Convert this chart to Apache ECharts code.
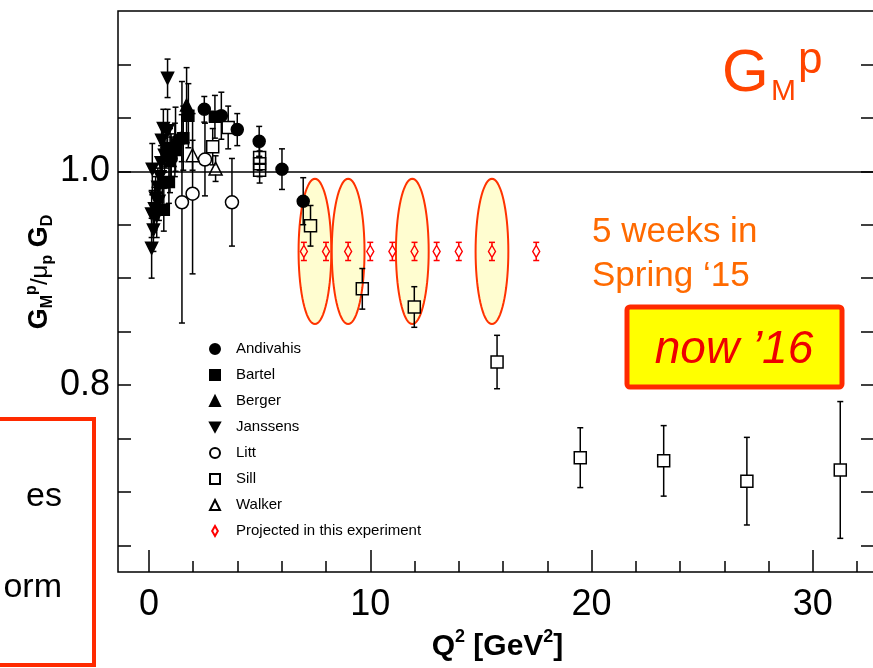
<!DOCTYPE html>
<html>
<head>
<meta charset="utf-8">
<script src="https://cdn.jsdelivr.net/npm/echarts@6/dist/echarts.min.js"></script>
<style>
  html, body { margin: 0; padding: 0; background: #fff; }
  #chart { width: 873px; height: 668px; }
</style>
</head>
<body>
<div id="chart"></div>
<script>
// [Q2, GMp/(mu_p GD), error]
var andivahis = [
  [1.0, 1.012, 0.020], [1.48, 1.031, 0.022], [2.5, 1.058, 0.012], [3.27, 1.052, 0.022],
  [3.99, 1.039, 0.015], [4.98, 1.028, 0.014], [6.01, 1.002, 0.019], [6.97, 0.972, 0.022]
];
var bartel = [
  [0.67, 0.964, 0.020], [0.9, 0.990, 0.020], [1.0, 1.015, 0.020], [1.17, 1.020, 0.025],
  [1.55, 1.031, 0.030], [1.78, 1.052, 0.030], [2.98, 1.051, 0.020]
];
var berger = [
  [0.6, 0.990, 0.030], [0.95, 1.010, 0.030], [1.2, 1.030, 0.030], [1.7, 1.062, 0.035]
];
var janssens = [
  [0.12, 0.928, 0.028], [0.12, 0.960, 0.022], [0.15, 1.002, 0.024], [0.2, 0.945, 0.020],
  [0.25, 0.965, 0.020], [0.3, 0.975, 0.020], [0.35, 0.958, 0.020], [0.4, 0.985, 0.018],
  [0.45, 0.972, 0.018], [0.5, 0.995, 0.016], [0.55, 1.008, 0.016], [0.57, 1.029, 0.016],
  [0.65, 1.040, 0.018], [0.7, 1.015, 0.016], [0.77, 1.021, 0.018], [0.84, 1.038, 0.020],
  [0.84, 1.087, 0.018]
];
var litt = [
  [1.49, 0.971, 0.113], [1.97, 0.979, 0.075], [2.53, 1.011, 0.034], [3.75, 0.971, 0.041]
];
var sill = [
  [2.88, 1.023, 0.017], [3.58, 1.041, 0.020], [5.0, 1.013, 0.012], [5.0, 1.007, 0.012],
  [5.0, 1.001, 0.012], [7.3, 0.949, 0.019], [9.64, 0.890, 0.019], [11.99, 0.873, 0.019],
  [15.73, 0.8215, 0.025], [19.49, 0.732, 0.028], [23.26, 0.729, 0.033], [27.02, 0.710, 0.041],
  [31.24, 0.7205, 0.064]
];
var walker = [
  [1.97, 1.015, 0.014], [3.01, 1.0025, 0.012]
];
var projQ2 = [7, 8, 9, 10, 11, 12, 13, 14, 15.5, 17.5];
var projRatio = 0.925;
var projErr = 0.0085;

// five-week run windows
var ellipseQ2 = [7.5, 9.0, 11.9, 15.5];

var xMinorTicks = [0, 2, 4, 6, 8, 10, 12, 14, 16, 18, 20, 22, 24, 26, 28, 30, 32];
var xMajorTicks = [0, 10, 20, 30];
var yTicks = [0.65, 0.7, 0.75, 0.8, 0.85, 0.9, 0.95, 1.0, 1.05, 1.1];
var yLabels = [0.8, 1.0];

var FONT = '"Liberation Sans", Arial, Helvetica, sans-serif';
var downTri = 'path://M0,0L12,0L6,11Z';
var thinDiamond = 'path://M4,0L8,7L4,14L0,7Z';

function errorBars(color, gap) {
  return function (params, api) {
    var x = api.value(0), y = api.value(1), e = api.value(2);
    var c = api.coord([x, y]);
    var hi = api.coord([x, y + e]);
    var lo = api.coord([x, y - e]);
    var st = { stroke: color, lineWidth: 1.5 };
    var kids = [
      { type: 'line', shape: { x1: hi[0] - 3, y1: hi[1], x2: hi[0] + 3, y2: hi[1] }, style: st },
      { type: 'line', shape: { x1: lo[0] - 3, y1: lo[1], x2: lo[0] + 3, y2: lo[1] }, style: st }
    ];
    if (c[1] - hi[1] > gap) {
      kids.push({ type: 'line', shape: { x1: c[0], y1: hi[1], x2: c[0], y2: c[1] - gap }, style: st });
      kids.push({ type: 'line', shape: { x1: c[0], y1: c[1] + gap, x2: c[0], y2: lo[1] }, style: st });
    }
    return { type: 'group', children: kids };
  };
}

function ellipseItem(params, api) {
  var cx = api.value(0), cy = api.value(1);
  var pts = [];
  for (var k = 0; k < 72; k++) {
    var a = k / 72 * 2 * Math.PI;
    pts.push(api.coord([cx + 0.74 * Math.cos(a), cy + 0.068 * Math.sin(a)]));
  }
  return { type: 'polygon', shape: { points: pts },
    style: { fill: '#fffdd0', stroke: '#ff3300', lineWidth: 2 } };
}

function pts(arr) { return arr.map(function (d) { return [d[0], d[1]]; }); }

function markers(name, arr, symbol, fill, stroke, size) {
  return {
    type: 'scatter', name: name, data: pts(arr), symbol: symbol, symbolSize: size || 12,
    itemStyle: { color: fill, borderColor: stroke, borderWidth: 1.5, opacity: 1 }, z: 4
  };
}
function bars(arr, color) {
  return { type: 'custom', data: arr, encode: { x: 0, y: 1 }, renderItem: errorBars(color, 6), z: 3, silent: true };
}

var projData = projQ2.map(function (q) { return [q, projRatio, projErr]; });
var open = 'rgba(0,0,0,0)';

var series = [
  { type: 'custom', data: ellipseQ2.map(function (q) { return [q, projRatio]; }),
    encode: { x: 0, y: 1 }, renderItem: ellipseItem, z: 1, silent: true },
  bars(andivahis, '#000'), bars(bartel, '#000'), bars(berger, '#000'), bars(janssens, '#000'),
  bars(litt, '#000'), bars(sill, '#000'), bars(walker, '#000'), bars(projData, '#ff0000'),
  Object.assign(markers('Andivahis', andivahis, 'circle', '#000', '#000'), {
    markLine: { silent: true, symbol: 'none', label: { show: false },
      lineStyle: { color: '#000', width: 1.5, type: 'solid' }, data: [{ yAxis: 1.0 }] }
  }),
  markers('Bartel', bartel, 'rect', '#000', '#000', 11),
  markers('Berger', berger, 'triangle', '#000', '#000', 12),
  markers('Janssens', janssens, downTri, '#000', '#000', 12),
  markers('Litt', litt, 'circle', open, '#000', 13),
  markers('Sill', sill, 'rect', open, '#000', 12),
  markers('Walker', walker, 'triangle', open, '#000', 13),
  markers('Projected in this experiment', pts(projData), thinDiamond, open, '#ff0000', [7, 12])
];

var chart = echarts.init(document.getElementById('chart'));
chart.setOption({
  animation: false,
  backgroundColor: '#fff',
  grid: { left: 118, top: 11, width: 759, height: 561, outerBoundsMode: 'none',
    show: true, borderColor: '#000', borderWidth: 1.5 },
  xAxis: [
    { type: 'value', min: -1.4, max: 32.9, position: 'bottom',
      axisLine: { show: false, onZero: false }, splitLine: { show: false },
      axisTick: { inside: true, length: 11, customValues: xMinorTicks, lineStyle: { color: '#000', width: 1.5 } },
      axisLabel: { show: false } },
    { type: 'value', min: -1.4, max: 32.9, position: 'bottom',
      axisLine: { show: false, onZero: false }, splitLine: { show: false },
      axisTick: { inside: true, length: 22, customValues: xMajorTicks, lineStyle: { color: '#000', width: 1.5 } },
      axisLabel: { customValues: xMajorTicks, margin: 15, color: '#000', fontSize: 36,
        fontFamily: '"Liberation Sans Narrow", ' + FONT },
      name: '{b|Q}{s|2}{b| [GeV}{s|2}{b|]}', nameLocation: 'middle', nameGap: 55,
      nameTextStyle: { rich: {
        b: { fontSize: 30, fontWeight: 'bold', fontFamily: FONT, color: '#000', lineHeight: 34, verticalAlign: 'bottom' },
        s: { fontSize: 18, fontWeight: 'bold', fontFamily: FONT, color: '#000', lineHeight: 34, verticalAlign: 'top' }
      } } }
  ],
  yAxis: [
    { type: 'value', min: 0.625, max: 1.15, position: 'left',
      axisLine: { show: false, onZero: false }, splitLine: { show: false },
      axisTick: { inside: true, length: 13, customValues: yTicks, lineStyle: { color: '#000', width: 1.5 } },
      axisLabel: { customValues: yLabels, margin: 8, color: '#000', fontSize: 36, fontFamily: FONT,
        formatter: function (v) { return v.toFixed(1); } } },
    { type: 'value', min: 0.625, max: 1.15, position: 'right',
      axisLine: { show: false, onZero: false }, splitLine: { show: false },
      axisTick: { inside: true, length: 16, customValues: yTicks, lineStyle: { color: '#000', width: 1.5 } },
      axisLabel: { show: false } }
  ],
  legend: {
    orient: 'vertical', left: 204, top: 336, itemWidth: 10, itemHeight: 10, itemGap: 10,
    selectedMode: false,
    textStyle: { fontSize: 15, fontFamily: FONT, color: '#000', lineHeight: 16, padding: [0, 0, 0, 11] },
    data: ['Andivahis', 'Bartel', 'Berger', { name: 'Janssens', icon: downTri }, 'Litt', 'Sill', 'Walker',
      { name: 'Projected in this experiment', icon: thinDiamond }]
  },
  series: series,
  graphic: [
    { type: 'text', x: 40, y: 272, rotation: Math.PI / 2,
      style: { text: '{b|G}{s|M}{p|p}{m|/μ}{s|p}{b| G}{s|D}', align: 'center', verticalAlign: 'middle',
        rich: {
          b: { fontSize: 27, fontWeight: 'bold', fontFamily: FONT, fill: '#000', lineHeight: 32, verticalAlign: 'middle' },
          m: { fontSize: 24, fontFamily: FONT, fill: '#000', lineHeight: 32, verticalAlign: 'middle' },
          s: { fontSize: 16, fontWeight: 'bold', fontFamily: FONT, fill: '#000', lineHeight: 32, verticalAlign: 'bottom' },
          p: { fontSize: 16, fontWeight: 'bold', fontFamily: FONT, fill: '#000', lineHeight: 32, verticalAlign: 'top' }
        } } },
    { type: 'rect', shape: { x: -10, y: 419, width: 104, height: 246 },
      style: { fill: 'none', stroke: '#ff2a00', lineWidth: 4 } },
    { type: 'text', x: 62, y: 497, style: { text: 'es', align: 'right', verticalAlign: 'middle',
      fontSize: 34, fontFamily: FONT, fill: '#000' } },
    { type: 'text', x: 62, y: 588, style: { text: 'orm', align: 'right', verticalAlign: 'middle',
      fontSize: 34, fontFamily: FONT, fill: '#000' } },
    { type: 'text', x: 722, y: 74, style: { text: 'G', align: 'left', verticalAlign: 'middle',
      fontSize: 60, fontFamily: FONT, fill: '#ff4400' } },
    { type: 'text', x: 771, y: 92, style: { text: 'M', align: 'left', verticalAlign: 'middle',
      fontSize: 30, fontFamily: FONT, fill: '#ff4400' } },
    { type: 'text', x: 798, y: 61, style: { text: 'p', align: 'left', verticalAlign: 'middle',
      fontSize: 44, fontFamily: FONT, fill: '#ff4400' } },
    { type: 'text', x: 592, y: 232, style: { text: '5 weeks in', align: 'left', verticalAlign: 'middle',
      fontSize: 35, fontFamily: FONT, fill: '#ff6a00' } },
    { type: 'text', x: 592, y: 276, style: { text: 'Spring \u201815', align: 'left', verticalAlign: 'middle',
      fontSize: 35, fontFamily: FONT, fill: '#ff6a00' } },
    { type: 'rect', shape: { x: 627, y: 307, width: 215, height: 80, r: 3 },
      style: { fill: '#ffff00', stroke: '#ff2a00', lineWidth: 5 } },
    { type: 'text', x: 734, y: 350, style: { text: 'now \u201916', align: 'center', verticalAlign: 'middle',
      fontSize: 46, fontStyle: 'italic', fontFamily: FONT, fill: '#ee0000' } }
  ]
});
</script>
</body>
</html>
